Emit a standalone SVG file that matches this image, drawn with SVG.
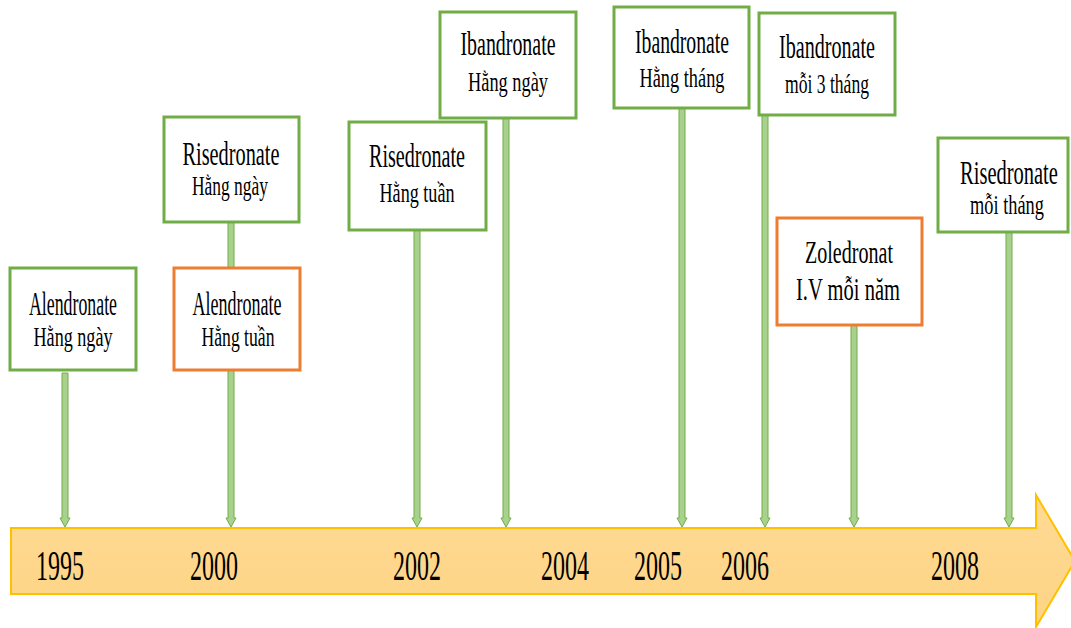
<svg xmlns="http://www.w3.org/2000/svg" width="1071" height="628" viewBox="0 0 1071 628">
<defs>
<linearGradient id="band" x1="0" y1="0" x2="0" y2="1">
<stop offset="0" stop-color="#FFDA95"/>
<stop offset="1" stop-color="#FDD484"/>
</linearGradient>
</defs>
<style>
.t{font-family:"Liberation Serif","Times New Roman",serif;fill:#000;text-anchor:middle}
.l1{font-size:33px}
.l2{font-size:28px}
.yr{font-size:43px}
.g{fill:#fff;stroke:#70AD47;stroke-width:3}
.o{fill:#fff;stroke:#ED7D31;stroke-width:3}
.c{fill:#A9D18E;stroke:#70AD47;stroke-width:1}
</style>
<rect width="1071" height="628" fill="#fff"/>
<g id="timeline">
<path d="M11 528 H1036 V495 L1075 561 L1036 627 V594 H11 Z" fill="url(#band)" stroke="#FFC000" stroke-width="2"/>
<text class="t yr" x="60" y="580" textLength="48" lengthAdjust="spacingAndGlyphs">1995</text>
<text class="t yr" x="214" y="580" textLength="48" lengthAdjust="spacingAndGlyphs">2000</text>
<text class="t yr" x="417" y="580" textLength="48" lengthAdjust="spacingAndGlyphs">2002</text>
<text class="t yr" x="565" y="580" textLength="48" lengthAdjust="spacingAndGlyphs">2004</text>
<text class="t yr" x="658" y="580" textLength="48" lengthAdjust="spacingAndGlyphs">2005</text>
<text class="t yr" x="745" y="580" textLength="48" lengthAdjust="spacingAndGlyphs">2006</text>
<text class="t yr" x="955" y="580" textLength="48" lengthAdjust="spacingAndGlyphs">2008</text>
</g>
<g id="connectors">
<path class="c" d="M62 373 V518 H60 L65 527 L70 518 H68 V373 Z"/>
<path class="c" d="M228 222 V518 H226 L231 527 L236 518 H234 V222 Z"/>
<path class="c" d="M414 230 V518 H412 L417 527 L422 518 H420 V230 Z"/>
<path class="c" d="M503 118 V518 H501 L506 527 L511 518 H509 V118 Z"/>
<path class="c" d="M679 108 V518 H677 L682 527 L687 518 H685 V108 Z"/>
<path class="c" d="M762 115 V518 H760 L765 527 L770 518 H768 V115 Z"/>
<path class="c" d="M851 325 V518 H849 L854 527 L859 518 H857 V325 Z"/>
<path class="c" d="M1006 232 V518 H1004 L1009 527 L1014 518 H1012 V232 Z"/>
</g>
<g id="n1">
<rect class="g" x="10" y="268" width="126" height="102"/>
<text class="t l1" x="73" y="315" textLength="88" lengthAdjust="spacingAndGlyphs">Alendronate</text>
<text class="t l2" x="73" y="346" textLength="79" lengthAdjust="spacingAndGlyphs">Hằng ngày</text>
</g>
<g id="n2">
<rect class="o" x="174" y="268" width="126" height="102"/>
<text class="t l1" x="237" y="315" textLength="89" lengthAdjust="spacingAndGlyphs">Alendronate</text>
<text class="t l2" x="238" y="346" textLength="73" lengthAdjust="spacingAndGlyphs">Hằng tuần</text>
</g>
<g id="n3">
<rect class="g" x="164" y="117" width="135" height="105"/>
<text class="t l1" x="231" y="165" textLength="97" lengthAdjust="spacingAndGlyphs">Risedronate</text>
<text class="t l2" x="230" y="195" textLength="76" lengthAdjust="spacingAndGlyphs">Hằng ngày</text>
</g>
<g id="n4">
<rect class="g" x="349" y="122" width="137" height="108"/>
<text class="t l1" x="417" y="167" textLength="96" lengthAdjust="spacingAndGlyphs">Risedronate</text>
<text class="t l2" x="417" y="202" textLength="75" lengthAdjust="spacingAndGlyphs">Hằng tuần</text>
</g>
<g id="n5">
<rect class="g" x="440" y="12" width="136" height="106"/>
<text class="t l1" x="508" y="55" textLength="95" lengthAdjust="spacingAndGlyphs">Ibandronate</text>
<text class="t l2" x="508" y="91" textLength="80" lengthAdjust="spacingAndGlyphs">Hằng ngày</text>
</g>
<g id="n6">
<rect class="g" x="614" y="7" width="135" height="101"/>
<text class="t l1" x="682" y="53" textLength="94" lengthAdjust="spacingAndGlyphs">Ibandronate</text>
<text class="t l2" x="682" y="87" textLength="85" lengthAdjust="spacingAndGlyphs">Hằng tháng</text>
</g>
<g id="n7">
<rect class="g" x="759" y="13" width="136" height="102"/>
<text class="t l1" x="827" y="58" textLength="96" lengthAdjust="spacingAndGlyphs">Ibandronate</text>
<text class="t l2" x="827" y="93" textLength="84" lengthAdjust="spacingAndGlyphs">mỗi 3 tháng</text>
</g>
<g id="n8">
<rect class="o" x="777" y="218" width="145" height="107"/>
<text class="t" style="font-size:32px" x="849" y="263" textLength="88" lengthAdjust="spacingAndGlyphs">Zoledronat</text>
<text class="t" style="font-size:31px" x="848" y="300" textLength="104" lengthAdjust="spacingAndGlyphs">I.V mỗi năm</text>
</g>
<g id="n9">
<rect class="g" x="938" y="138" width="130" height="94"/>
<text class="t l1" transform="matrix(0.6 0 0 1 1009 184)" x="0" y="0" textLength="163" lengthAdjust="spacingAndGlyphs">Risedronate</text>
<text class="t l2" transform="matrix(0.6 0 0 1 1007 214)" x="0" y="0" textLength="123" lengthAdjust="spacingAndGlyphs">mỗi tháng</text>
</g>
</svg>
